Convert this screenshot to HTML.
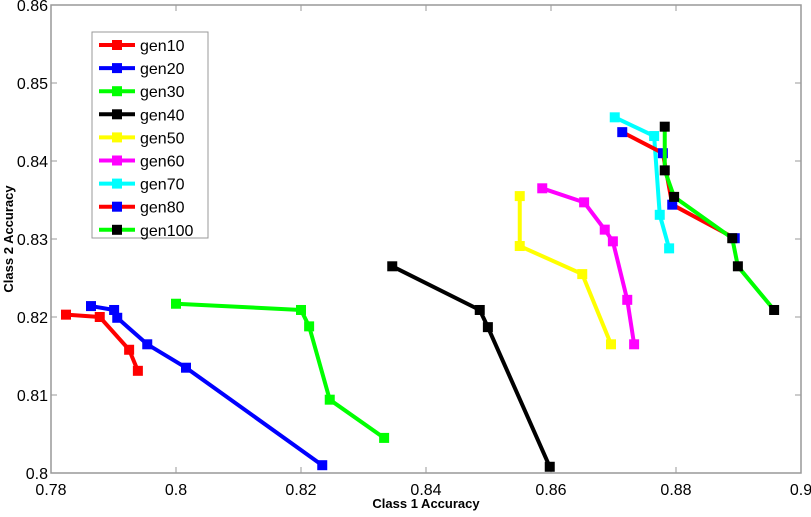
<!DOCTYPE html>
<html><head><meta charset="utf-8"><style>
body{margin:0;background:#fff;}
svg text{font-family:"Liberation Sans",Arial,sans-serif;}
</style></head><body>
<svg id="chart" width="811" height="512" xmlns="http://www.w3.org/2000/svg"></svg>
<script>
const seriesNames=["gen10","gen20","gen30","gen40","gen50","gen60","gen70","gen80","gen100"];
const lineColors=["#ff0000","#0000ff","#00ff00","#000000","#ffff00","#ff00ff","#00ffff","#ff0000","#00ff00"];
const markerColors=["#ff0000","#0000ff","#00ff00","#000000","#ffff00","#ff00ff","#00ffff","#0000ff","#000000"];
const xGen10=[0.7824,0.7878,0.7925,0.7939];
const yGen10=[0.8203,0.8200,0.8158,0.8131];
const xGen20=[0.7864,0.7901,0.7906,0.7954,0.8016,0.8234];
const yGen20=[0.8214,0.8209,0.8199,0.8165,0.8135,0.8010];
const xGen30=[0.8000,0.8200,0.8213,0.8246,0.8333];
const yGen30=[0.8217,0.8209,0.8188,0.8094,0.8045];
const xGen40=[0.8346,0.8486,0.8499,0.8598];
const yGen40=[0.8265,0.8209,0.8187,0.8008];
const xGen50=[0.8550,0.8550,0.8650,0.8696];
const yGen50=[0.8355,0.8291,0.8255,0.8165];
const xGen60=[0.8586,0.8653,0.8686,0.8699,0.8722,0.8733];
const yGen60=[0.8365,0.8347,0.8312,0.8297,0.8222,0.8165];
const xGen70=[0.8702,0.8765,0.8774,0.8789];
const yGen70=[0.8456,0.8432,0.8331,0.8288];
const xGen80=[0.8714,0.8779,0.8794,0.8894];
const yGen80=[0.8437,0.8410,0.8344,0.8301];
const xGen100=[0.8782,0.8782,0.8797,0.8890,0.8899,0.8957];
const yGen100=[0.8444,0.8388,0.8354,0.8301,0.8265,0.8209];
const xTicks=[0.78,0.8,0.82,0.84,0.86,0.88,0.9];
const xTickLabels=["0.78","0.8","0.82","0.84","0.86","0.88","0.9"];
const yTicks=[0.8,0.81,0.82,0.83,0.84,0.85,0.86];
const yTickLabels=["0.8","0.81","0.82","0.83","0.84","0.85","0.86"];

const xs=[xGen10,xGen20,xGen30,xGen40,xGen50,xGen60,xGen70,xGen80,xGen100];
const ys=[yGen10,yGen20,yGen30,yGen40,yGen50,yGen60,yGen70,yGen80,yGen100];
const L=51,R=801,T=5,B=473;
const sx=v=>L+(v-0.78)/0.12*(R-L);
const sy=v=>B-(v-0.8)/0.06*(B-T);
const svg=document.getElementById('chart');
const NS='http://www.w3.org/2000/svg';
function mk(tag,attrs,parent){const e=document.createElementNS(NS,tag);for(const k in attrs)e.setAttribute(k,attrs[k]);(parent||svg).appendChild(e);return e;}

const axes=mk('g',{});


const frame=mk('rect',{x:L,y:T,width:R-L,height:B-T,fill:'none',stroke:'#999','stroke-width':1.5},axes);


xTicks.forEach((t,i)=>{
  const x=sx(t);
  mk('line',{x1:x,x2:x,y1:B,y2:B-6,stroke:'#999'},axes);
  mk('line',{x1:x,x2:x,y1:T,y2:T+6,stroke:'#999'},axes);
  const tx=mk('text',{x:x,y:B+22,'text-anchor':'middle','font-size':16},axes);
  tx.textContent=xTickLabels[i];
  
  
});
yTicks.forEach((t,i)=>{
  const y=sy(t);
  mk('line',{x1:L,x2:L+6,y1:y,y2:y,stroke:'#999'},axes);
  mk('line',{x1:R,x2:R-6,y1:y,y2:y,stroke:'#999'},axes);
  const tx=mk('text',{x:L-3,y:y+6,'text-anchor':'end','font-size':16},axes);
  tx.textContent=yTickLabels[i];
  
  
});
const xt=mk('text',{x:426,y:508,'text-anchor':'middle','font-size':13,'font-weight':'bold'});
xt.textContent='Class 1 Accuracy';


const yt=mk('text',{x:13,y:239,'text-anchor':'middle','font-size':13,'font-weight':'bold',transform:'rotate(-90 13 239)'});
yt.textContent='Class 2 Accuracy';



seriesNames.forEach((n,s)=>{
  const g=mk('g',{});
  
  
  const pts=xs[s].map((v,i)=>sx(v)+','+sy(ys[s][i])).join(' ');
  mk('polyline',{points:pts,fill:'none',stroke:lineColors[s],'stroke-width':4,'stroke-linejoin':'round'},g);
  xs[s].forEach((v,i)=>{
    const m=mk('rect',{x:sx(v)-5,y:sy(ys[s][i])-5,width:10,height:10,fill:markerColors[s]},g);
    
    
  });
});

const lg=mk('g',{});


mk('rect',{x:92,y:32,width:116,height:206,fill:'#fff',stroke:'#999','stroke-width':1},lg);
seriesNames.forEach((n,s)=>{
  const y=45+s*23.1;
  const e=mk('g',{},lg);
  
  
  mk('line',{x1:99,x2:135,y1:y,y2:y,stroke:lineColors[s],'stroke-width':4},e);
  mk('rect',{x:112,y:y-5,width:10,height:10,fill:markerColors[s]},e);
  const t=mk('text',{x:140,y:y+6,'font-size':16},e);
  t.textContent=n;
});
</script>
</body></html>
